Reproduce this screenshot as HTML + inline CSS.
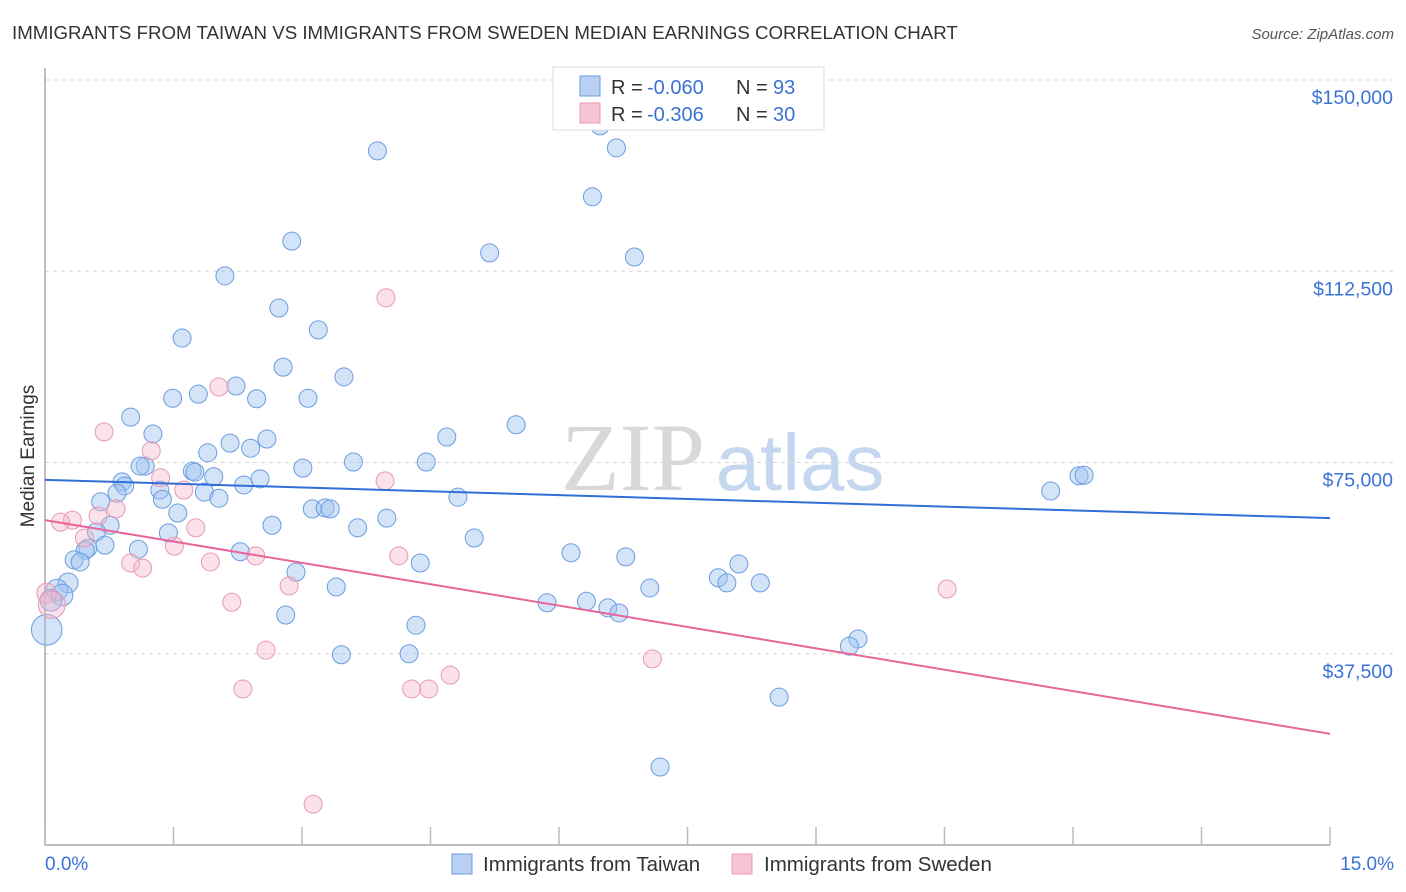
<!DOCTYPE html>
<html><head><meta charset="utf-8"><style>
body{margin:0;background:#fff;width:1406px;height:892px;overflow:hidden;font-family:"Liberation Sans",sans-serif;}
svg{display:block}
</style></head><body>
<svg id="chart" width="1406" height="892">
<text x="12" y="39" font-size="18.7" fill="#333">IMMIGRANTS FROM TAIWAN VS IMMIGRANTS FROM SWEDEN MEDIAN EARNINGS CORRELATION CHART</text>
<text x="1394" y="39" font-size="15" fill="#555" font-style="italic" text-anchor="end">Source: ZipAtlas.com</text>
<g>
<text x="633" y="490" font-size="96" fill="#d8d8d8" font-family="Liberation Serif,serif" text-anchor="middle">ZIP</text>
<text x="800" y="490" font-size="80" fill="#c5d7ef" text-anchor="middle">atlas</text>
</g>
<g id="grid"></g>
<g id="axes"></g>
<g id="points"></g>
<g id="lines"></g>
<text transform="translate(34,456) rotate(-90)" font-size="19" fill="#333" text-anchor="middle">Median Earnings</text>
<g>
<rect x="553" y="67" width="271" height="63" fill="#fff" stroke="#ddd"/>
<rect x="580" y="76" width="20" height="20" fill="#b8d1f3" stroke="#6a9de0"/>
<g font-size="20">
<text x="611" y="94" fill="#333">R =</text><text x="647" y="94" fill="#3b72d6">-0.060</text>
<text x="736" y="94" fill="#333">N =</text><text x="773" y="94" fill="#3b72d6">93</text></g>
<rect x="580" y="103" width="20" height="20" fill="#f7c4d4" stroke="#e899b4"/>
<g font-size="20">
<text x="611" y="121" fill="#333">R =</text><text x="647" y="121" fill="#3b72d6">-0.306</text>
<text x="736" y="121" fill="#333">N =</text><text x="773" y="121" fill="#3b72d6">30</text></g>
</g>
<g>
<rect x="452" y="854" width="20" height="20" fill="#b8d1f3" stroke="#6a9de0"/>
<text x="483" y="871" font-size="20.5" fill="#333">Immigrants from Taiwan</text>
<rect x="732" y="854" width="20" height="20" fill="#f7c4d4" stroke="#e899b4"/>
<text x="764" y="871" font-size="20.5" fill="#333">Immigrants from Sweden</text>
</g>
</svg>
<script>
const yTicks=[37500,75000,112500,150000];
const yTickLabels=["$37,500","$75,000","$112,500","$150,000"];
const xTicks=[0,1.5,3,4.5,6,7.5,9,10.5,12,13.5,15];
const taiwanX=[6.48,6.67,3.88,6.39,2.88,5.19,6.88,2.10,2.73,3.19,1.60,2.78,3.49,2.23,1.49,1.79,2.47,3.07,1.00,5.50,1.26,4.69,2.59,2.16,2.40,1.90,1.17,1.11,0.90,0.93,3.60,4.45,3.01,1.72,1.75,1.97,2.51,2.32,0.84,1.34,1.86,0.65,1.37,2.03,4.82,12.07,12.13,11.74,1.55,3.12,3.27,3.33,3.99,0.76,2.65,3.65,1.44,0.60,5.01,0.50,0.70,1.09,0.47,2.28,6.14,6.78,0.34,0.41,4.38,8.10,2.93,7.86,7.96,8.35,7.06,3.40,0.27,5.86,6.32,6.57,6.70,2.81,0.14,0.20,4.33,0.02,9.49,9.39,3.46,4.25,8.57,7.18,0.07];
const taiwanY=[141.0,136.7,136.1,127.1,118.4,116.1,115.3,111.6,105.3,101.0,99.4,93.7,91.8,90.0,87.6,88.4,87.5,87.6,83.9,82.4,80.6,80.0,79.6,78.8,77.8,76.9,74.3,74.3,71.2,70.4,75.1,75.1,73.9,73.3,73.1,72.2,71.8,70.6,69.0,69.6,69.2,67.3,67.8,68.0,68.2,72.4,72.5,69.4,65.1,65.9,66.1,65.9,64.1,62.7,62.7,62.2,61.2,61.4,60.2,58.2,58.8,58.0,57.8,57.5,57.3,56.5,55.9,55.5,55.3,55.1,53.5,52.4,51.4,51.4,50.4,50.6,51.4,47.5,47.8,46.5,45.5,45.1,50.0,49.0,43.1,42.2,40.4,39.0,37.3,37.5,29.0,15.3,48.0];
const taiwanSize=[1,1,1,1,1,1,1,1,1,1,1,1,1,1,1,1,1,1,1,1,1,1,1,1,1,1,1,1,1,1,1,1,1,1,1,1,1,1,1,1,1,1,1,1,1,1,1,1,1,1,1,1,1,1,1,1,1,1,1,1,1,1,1,1,1,1,1,1,1,1,1,1,1,1,1,1,1.1,1,1,1,1,1,1.2,1.2,1,1.7,1,1,1,1,1,1,1.2];
const swedenX=[3.98,2.03,0.69,1.24,1.35,1.62,3.97,0.83,0.62,0.32,0.18,1.76,0.46,1.51,2.46,4.13,1.00,1.14,1.93,2.85,2.18,2.58,7.09,2.31,4.28,4.48,4.73,3.13,10.53,0.02,0.08];
const swedenY=[107.3,89.8,81.0,77.3,72.0,69.6,71.4,65.9,64.5,63.7,63.3,62.2,60.2,58.6,56.7,56.7,55.3,54.3,55.5,50.8,47.6,38.2,36.5,30.6,30.6,30.6,33.3,8.0,50.2,49.4,47.1];
const swedenSize=[1,1,1,1,1,1,1,1,1,1,1,1,1,1,1,1,1,1,1,1,1,1,1,1,1,1,1,1,1,1.1,1.5];
const taiwanTrend=[71.6,64.1];
const swedenTrend=[63.7,21.8];
const X0=45,X1=1330,Y0=845,YTOP=80;
const xs=v=>X0+(v/15)*(X1-X0);
const ys=v=>Y0-(v/150000)*(Y0-YTOP);
const NS="http://www.w3.org/2000/svg";
function mk(tag,attrs,parent){const e=document.createElementNS(NS,tag);for(const k in attrs)e.setAttribute(k,attrs[k]);parent.appendChild(e);return e;}
const grid=document.getElementById('grid'),axes=document.getElementById('axes'),pts=document.getElementById('points'),lines=document.getElementById('lines');
yTicks.forEach((t,i)=>{
 const l=mk('line',{x1:X0,x2:1394,y1:ys(t),y2:ys(t),stroke:'#d6d6d6','stroke-dasharray':'4,4'},grid);
 
 
 const tx=mk('text',{x:1393,y:ys(t)+24,'font-size':19.5,fill:'#3b72d6','text-anchor':'end'},axes);
 tx.textContent=yTickLabels[i];
 
 
});
const ax=mk('path',{d:`M${X0},68V${Y0}H${X1}`,fill:'none',stroke:'#aaa','stroke-width':1.5},axes);


xTicks.forEach(t=>{
 const l=mk('line',{x1:xs(t),x2:xs(t),y1:Y0-18,y2:Y0,stroke:'#bbb','stroke-width':1.5},axes);
 
 
});
const xl0=mk('text',{x:45,y:870,'font-size':19,fill:'#3b72d6'},axes);xl0.textContent='0.0%';


const xl1=mk('text',{x:1394,y:870,'font-size':19,fill:'#3b72d6','text-anchor':'end'},axes);xl1.textContent='15.0%';


taiwanX.forEach((x,i)=>{
 const c=mk('circle',{cx:xs(x),cy:ys(taiwanY[i]*1000),r:9*taiwanSize[i],fill:'rgba(160,196,240,0.45)',stroke:'#6a9de0','stroke-width':1},pts);
 
 
});
swedenX.forEach((x,i)=>{
 const c=mk('circle',{cx:xs(x),cy:ys(swedenY[i]*1000),r:9*swedenSize[i],fill:'rgba(245,180,200,0.4)',stroke:'#e899b4','stroke-width':1},pts);
 
 
});
const tl=mk('line',{x1:xs(0),x2:xs(15),y1:ys(taiwanTrend[0]*1000),y2:ys(taiwanTrend[1]*1000),stroke:'#2f6fd6','stroke-width':2},lines);


const sl=mk('line',{x1:xs(0),x2:xs(15),y1:ys(swedenTrend[0]*1000),y2:ys(swedenTrend[1]*1000),stroke:'#e8649a','stroke-width':2},lines);


</script>
</body></html>
